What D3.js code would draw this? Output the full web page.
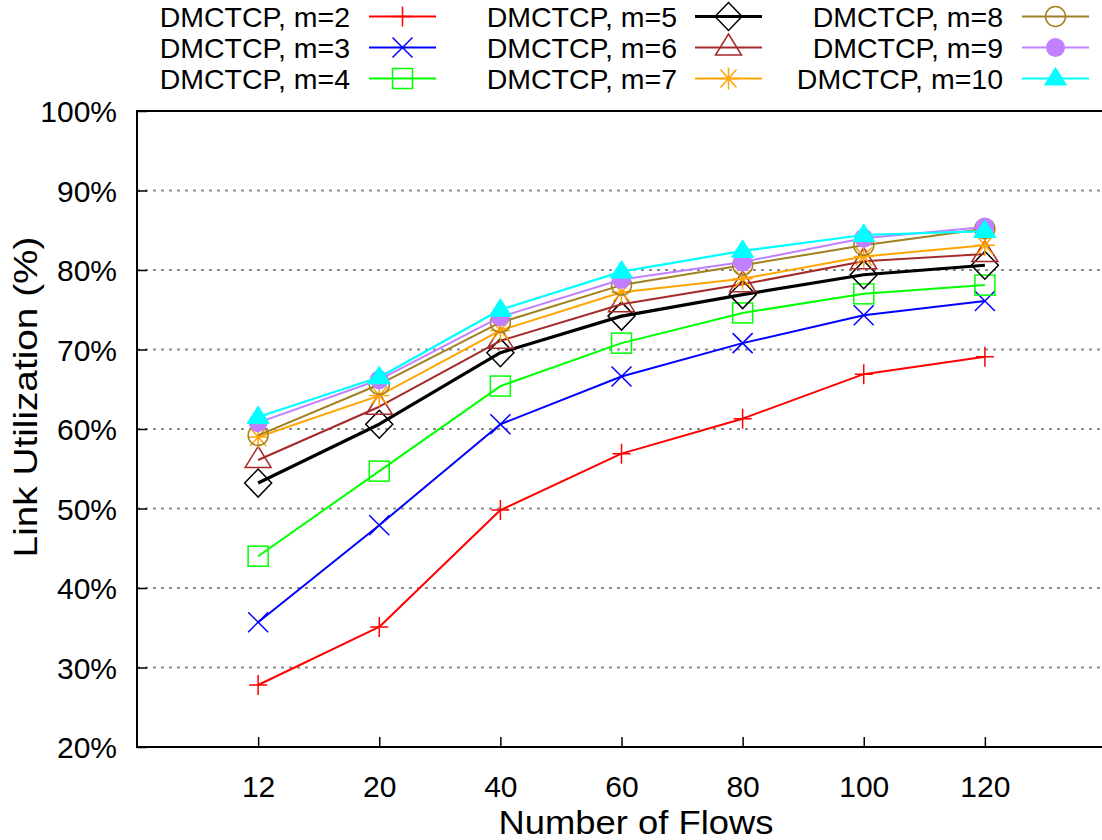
<!DOCTYPE html>
<html>
<head>
<meta charset="utf-8">
<script src="https://cdn.jsdelivr.net/npm/d3@7"></script>
<style>
  html, body { margin: 0; padding: 0; background: #fff; }
  svg { display: block; font-family: "Liberation Sans", Arial, sans-serif; }
</style>
</head>
<body>
<svg id="chart" width="1102" height="840"></svg>
<script>
// Number of concurrent flows (x categories)
const flows = ["12", "20", "40", "60", "80", "100", "120"];

// Link utilization (%) per DMCTCP m setting
const util_m2  = [27.8, 35.1, 49.8, 56.9, 61.3, 66.9, 69.1];
const util_m3  = [35.7, 47.9, 60.6, 66.6, 70.8, 74.3, 76.1];
const util_m4  = [44.0, 54.7, 65.4, 70.8, 74.6, 77.0, 78.1];
const util_m5  = [53.2, 60.6, 69.6, 74.2, 76.9, 79.4, 80.6];
const util_m6  = [56.1, 62.8, 71.1, 75.7, 78.2, 81.1, 82.0];
const util_m7  = [59.0, 64.2, 72.4, 77.2, 78.9, 81.7, 83.1];
const util_m8  = [59.2, 65.6, 73.4, 78.1, 80.6, 83.1, 85.2];
const util_m9  = [60.8, 66.2, 74.1, 78.8, 81.0, 84.0, 85.4];
const util_m10 = [61.5, 66.5, 75.0, 79.8, 82.4, 84.4, 84.9];

const yTicks = [20, 30, 40, 50, 60, 70, 80, 90, 100];

const series = [
  { name: "DMCTCP, m=2",  values: util_m2,  color: "#ff0000", width: 2, marker: "plus" },
  { name: "DMCTCP, m=3",  values: util_m3,  color: "#0000ff", width: 2, marker: "cross" },
  { name: "DMCTCP, m=4",  values: util_m4,  color: "#00ff00", width: 2, marker: "square" },
  { name: "DMCTCP, m=5",  values: util_m5,  color: "#000000", width: 3.2, marker: "diamond" },
  { name: "DMCTCP, m=6",  values: util_m6,  color: "#a52a2a", width: 2, marker: "triangle" },
  { name: "DMCTCP, m=7",  values: util_m7,  color: "#ffa500", width: 2, marker: "star" },
  { name: "DMCTCP, m=8",  values: util_m8,  color: "#a08020", width: 2, marker: "circle" },
  { name: "DMCTCP, m=9",  values: util_m9,  color: "#c080ff", width: 2, marker: "dot" },
  { name: "DMCTCP, m=10", values: util_m10, color: "#00ffff", width: 2.2, marker: "filltri" }
];

const svg = d3.select("#chart");
const plot = { left: 137, top: 111, right: 1106, bottom: 747 };

const x = d3.scalePoint().domain(flows).range([plot.left, plot.right]).padding(1);
const y = d3.scaleLinear().domain([20, 100]).range([plot.bottom, plot.top]);

// dotted horizontal grid
svg.append("g")
  .selectAll("line")
  .data(yTicks.filter(t => t > 20 && t < 100))
  .join("line")
  .attr("x1", plot.left).attr("x2", plot.right)
  .attr("y1", d => y(d)).attr("y2", d => y(d))
  .attr("stroke", "#8a8a8a")
  .attr("stroke-width", 2)
  .attr("stroke-dasharray", "3,5");

// y axis: inward ticks, labels on the left
const yAxis = svg.append("g")
  .attr("transform", `translate(${plot.left},0)`)
  .call(d3.axisRight(y).tickValues(yTicks).tickSize(10).tickFormat(d => d + "%"));
yAxis.select(".domain").remove();
yAxis.selectAll(".tick line").attr("stroke", "#000").attr("stroke-width", 1.5);
yAxis.selectAll(".tick text")
  .attr("x", -20)
  .attr("text-anchor", "end")
  .attr("dy", "0.36em")
  .attr("font-size", 30)
  .attr("fill", "#000")
  .attr("font-family", "'Liberation Sans', Arial, sans-serif");

// x axis: inward ticks, labels below
const xAxis = svg.append("g")
  .attr("transform", `translate(0,${plot.bottom})`)
  .call(d3.axisTop(x).tickSize(10).tickFormat(d => d));
xAxis.select(".domain").remove();
xAxis.selectAll(".tick line").attr("stroke", "#000").attr("stroke-width", 1.5);
xAxis.selectAll(".tick text")
  .attr("y", 50)
  .attr("dy", 0)
  .attr("text-anchor", "middle")
  .attr("font-size", 30)
  .attr("fill", "#000")
  .attr("font-family", "'Liberation Sans', Arial, sans-serif");

// marker shapes
function drawMarker(g, type, cx, cy, color) {
  const sw = 1.5;
  const p = d3.path();
  switch (type) {
    case "plus":
      p.moveTo(cx - 9, cy); p.lineTo(cx + 9, cy);
      p.moveTo(cx, cy - 10); p.lineTo(cx, cy + 10);
      g.append("path").attr("d", p.toString()).attr("stroke", color).attr("stroke-width", sw).attr("fill", "none");
      break;
    case "cross":
      p.moveTo(cx - 10, cy - 10); p.lineTo(cx + 10, cy + 10);
      p.moveTo(cx - 10, cy + 10); p.lineTo(cx + 10, cy - 10);
      g.append("path").attr("d", p.toString()).attr("stroke", color).attr("stroke-width", sw).attr("fill", "none");
      break;
    case "square":
      g.append("rect").attr("x", cx - 10).attr("y", cy - 10).attr("width", 20).attr("height", 20)
        .attr("stroke", color).attr("stroke-width", sw).attr("fill", "none");
      break;
    case "diamond":
      p.moveTo(cx, cy - 14); p.lineTo(cx + 13.5, cy); p.lineTo(cx, cy + 14); p.lineTo(cx - 13.5, cy); p.closePath();
      g.append("path").attr("d", p.toString()).attr("stroke", color).attr("stroke-width", sw).attr("fill", "none");
      break;
    case "triangle":
      p.moveTo(cx, cy - 13.5); p.lineTo(cx + 13, cy + 7.5); p.lineTo(cx - 13, cy + 7.5); p.closePath();
      g.append("path").attr("d", p.toString()).attr("stroke", color).attr("stroke-width", sw).attr("fill", "none");
      break;
    case "star":
      p.moveTo(cx - 10, cy); p.lineTo(cx + 10, cy);
      p.moveTo(cx, cy - 11); p.lineTo(cx, cy + 11);
      p.moveTo(cx - 8, cy - 9); p.lineTo(cx + 8, cy + 9);
      p.moveTo(cx - 8, cy + 9); p.lineTo(cx + 8, cy - 9);
      g.append("path").attr("d", p.toString()).attr("stroke", color).attr("stroke-width", sw).attr("fill", "none");
      break;
    case "circle":
      g.append("circle").attr("cx", cx).attr("cy", cy).attr("r", 10)
        .attr("stroke", color).attr("stroke-width", sw).attr("fill", "none");
      break;
    case "dot":
      g.append("circle").attr("cx", cx).attr("cy", cy).attr("r", 9.5)
        .attr("stroke", "none").attr("fill", color);
      break;
    case "filltri":
      p.moveTo(cx, cy - 11); p.lineTo(cx + 11, cy + 6.5); p.lineTo(cx - 11, cy + 6.5); p.closePath();
      g.append("path").attr("d", p.toString()).attr("stroke", color).attr("stroke-width", 1).attr("fill", color);
      break;
  }
}

// series lines and points
const line = d3.line().x((d, i) => x(flows[i])).y(d => y(d));
series.forEach(s => {
  const g = svg.append("g");
  g.append("path")
    .attr("d", line(s.values))
    .attr("fill", "none")
    .attr("stroke", s.color)
    .attr("stroke-width", s.width)
    .attr("stroke-linejoin", "round");
  s.values.forEach((v, i) => drawMarker(g, s.marker, x(flows[i]), y(v), s.color));
});

// plot border
svg.append("rect")
  .attr("x", plot.left).attr("y", plot.top)
  .attr("width", plot.right - plot.left).attr("height", plot.bottom - plot.top)
  .attr("fill", "none").attr("stroke", "#000").attr("stroke-width", 2);

// axis titles
svg.append("text")
  .attr("transform", "translate(636,834) scale(1.07,1)")
  .attr("text-anchor", "middle")
  .attr("font-size", 34)
  .text("Number of Flows");

svg.append("text")
  .attr("transform", "translate(37,397) rotate(-90) scale(1.14,1)")
  .attr("text-anchor", "middle")
  .attr("font-size", 34)
  .text("Link Utilization (%)");

// legend: three columns of three rows
const legendCols = [
  { textRight: 350, sampleX: 369 },
  { textRight: 677, sampleX: 695 },
  { textRight: 1003, sampleX: 1022 }
];
const legendRows = [16.5, 47.5, 78.5];
const sampleLen = 67;
series.forEach((s, k) => {
  const col = legendCols[Math.floor(k / 3)];
  const cy = legendRows[k % 3];
  const g = svg.append("g");
  g.append("text")
    .attr("x", col.textRight).attr("y", cy)
    .attr("dy", "0.36em")
    .attr("text-anchor", "end")
    .attr("font-size", 28.5)
    .text(s.name);
  g.append("line")
    .attr("x1", col.sampleX).attr("x2", col.sampleX + sampleLen)
    .attr("y1", cy).attr("y2", cy)
    .attr("stroke", s.color).attr("stroke-width", s.width);
  drawMarker(g, s.marker, col.sampleX + sampleLen / 2, cy, s.color);
});
</script>
</body>
</html>
